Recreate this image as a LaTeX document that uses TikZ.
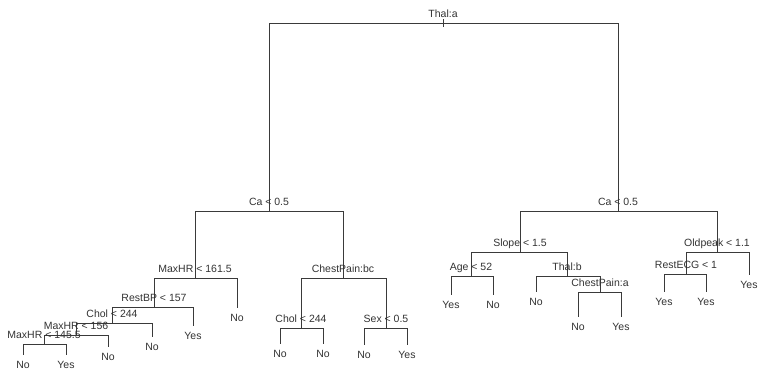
\documentclass[tikz,border=0pt]{standalone}
\usepackage{fontspec}
\setmainfont{Liberation Sans}
\definecolor{edge}{HTML}{3A3A3A}
\definecolor{txt}{HTML}{333333}
\tikzset{
  branch/.style={draw=edge, line width=0.9pt},
  splitlab/.style={font=\fontsize{10.5}{12}\selectfont, text=txt, anchor=base, inner sep=0pt, yshift=6pt},
  leaflab/.style={font=\fontsize{10.5}{12}\selectfont, text=txt, anchor=base, inner sep=0pt, yshift=-13pt}
}
\begin{document}
\begin{tikzpicture}[x=1pt,y=-1pt]
\useasboundingbox (0,0) rectangle (758,370);
% tree points
\coordinate (r) at (443,23);
\coordinate (rt) at (443,19);
\coordinate (rb) at (443,27);
\coordinate (L) at (269,211);
\coordinate (R) at (618,211);
\coordinate (LL) at (195,278);
\coordinate (LR) at (343,278);
\coordinate (LLL) at (154,307);
\coordinate (LLR) at (237,308);
\coordinate (L3L) at (112,323);
\coordinate (L3R) at (193,326);
\coordinate (L4L) at (76,335);
\coordinate (L4R) at (152,337);
\coordinate (L5L) at (44,344);
\coordinate (L5R) at (108,347);
\coordinate (L6L) at (23,355);
\coordinate (L6R) at (66,355);
\coordinate (LRL) at (301,328);
\coordinate (LRLa) at (280,344);
\coordinate (LRLb) at (323,344);
\coordinate (LRR) at (386,328);
\coordinate (LRRa) at (364,345);
\coordinate (LRRb) at (407,345);
\coordinate (RL) at (520,252);
\coordinate (RR) at (717,252);
\coordinate (RLL) at (471,276);
\coordinate (RLLa) at (451,295);
\coordinate (RLLb) at (493,295);
\coordinate (RLR) at (567,276);
\coordinate (RLRa) at (536,292);
\coordinate (RLRb) at (600,292);
\coordinate (RLRba) at (578,317);
\coordinate (RLRbb) at (621,317);
\coordinate (RRL) at (686,274);
\coordinate (RRLa) at (664,292);
\coordinate (RRLb) at (706,292);
\coordinate (RRR) at (749,275);
% connectors
\draw[branch] (rt) -- (rb);
\foreach \p/\c in {r/L, r/R, L/LL, L/LR, LL/LLL, LL/LLR, LLL/L3L, LLL/L3R,
  L3L/L4L, L3L/L4R, L4L/L5L, L4L/L5R, L5L/L6L, L5L/L6R,
  LR/LRL, LR/LRR, LRL/LRLa, LRL/LRLb, LRR/LRRa, LRR/LRRb,
  R/RL, R/RR, RL/RLL, RL/RLR, RLL/RLLa, RLL/RLLb, RLR/RLRa, RLR/RLRb,
  RLRb/RLRba, RLRb/RLRbb, RR/RRL, RR/RRR, RRL/RRLa, RRL/RRLb}
  \draw[branch] (\p) -| (\c);
% split labels
\node[splitlab] (tr) at (r) {Thal:a};
\node[splitlab] (tL) at (L) {Ca < 0.5};
\node[splitlab] (tR) at (R) {Ca < 0.5};
\node[splitlab] (tLL) at (LL) {MaxHR < 161.5};
\node[splitlab] (tLR) at (LR) {ChestPain:bc};
\node[splitlab] (tLLL) at (LLL) {RestBP < 157};
\node[splitlab] (tL3L) at (L3L) {Chol < 244};
\node[splitlab] (tL4L) at (L4L) {MaxHR < 156};
\node[splitlab] (tL5L) at (L5L) {MaxHR < 145.5};
\node[splitlab] (tLRL) at (LRL) {Chol < 244};
\node[splitlab] (tLRR) at (LRR) {Sex < 0.5};
\node[splitlab] (tRL) at (RL) {Slope < 1.5};
\node[splitlab] (tRR) at (RR) {Oldpeak < 1.1};
\node[splitlab] (tRLL) at (RLL) {Age < 52};
\node[splitlab] (tRLR) at (RLR) {Thal:b};
\node[splitlab] (tRLRb) at (RLRb) {ChestPain:a};
\node[splitlab] (tRRL) at (RRL) {RestECG < 1};
% leaf labels
\node[leaflab] (tLLR) at (LLR) {No};
\node[leaflab] (tL3R) at (L3R) {Yes};
\node[leaflab] (tL4R) at (L4R) {No};
\node[leaflab] (tL5R) at (L5R) {No};
\node[leaflab] (tL6L) at (L6L) {No};
\node[leaflab] (tL6R) at (L6R) {Yes};
\node[leaflab] (tLRLa) at (LRLa) {No};
\node[leaflab] (tLRLb) at (LRLb) {No};
\node[leaflab] (tLRRa) at (LRRa) {No};
\node[leaflab] (tLRRb) at (LRRb) {Yes};
\node[leaflab] (tRLLa) at (RLLa) {Yes};
\node[leaflab] (tRLLb) at (RLLb) {No};
\node[leaflab] (tRLRa) at (RLRa) {No};
\node[leaflab] (tRLRba) at (RLRba) {No};
\node[leaflab] (tRLRbb) at (RLRbb) {Yes};
\node[leaflab] (tRRLa) at (RRLa) {Yes};
\node[leaflab] (tRRLb) at (RRLb) {Yes};
\node[leaflab] (tRRR) at (RRR) {Yes};
\end{tikzpicture}
\end{document}
